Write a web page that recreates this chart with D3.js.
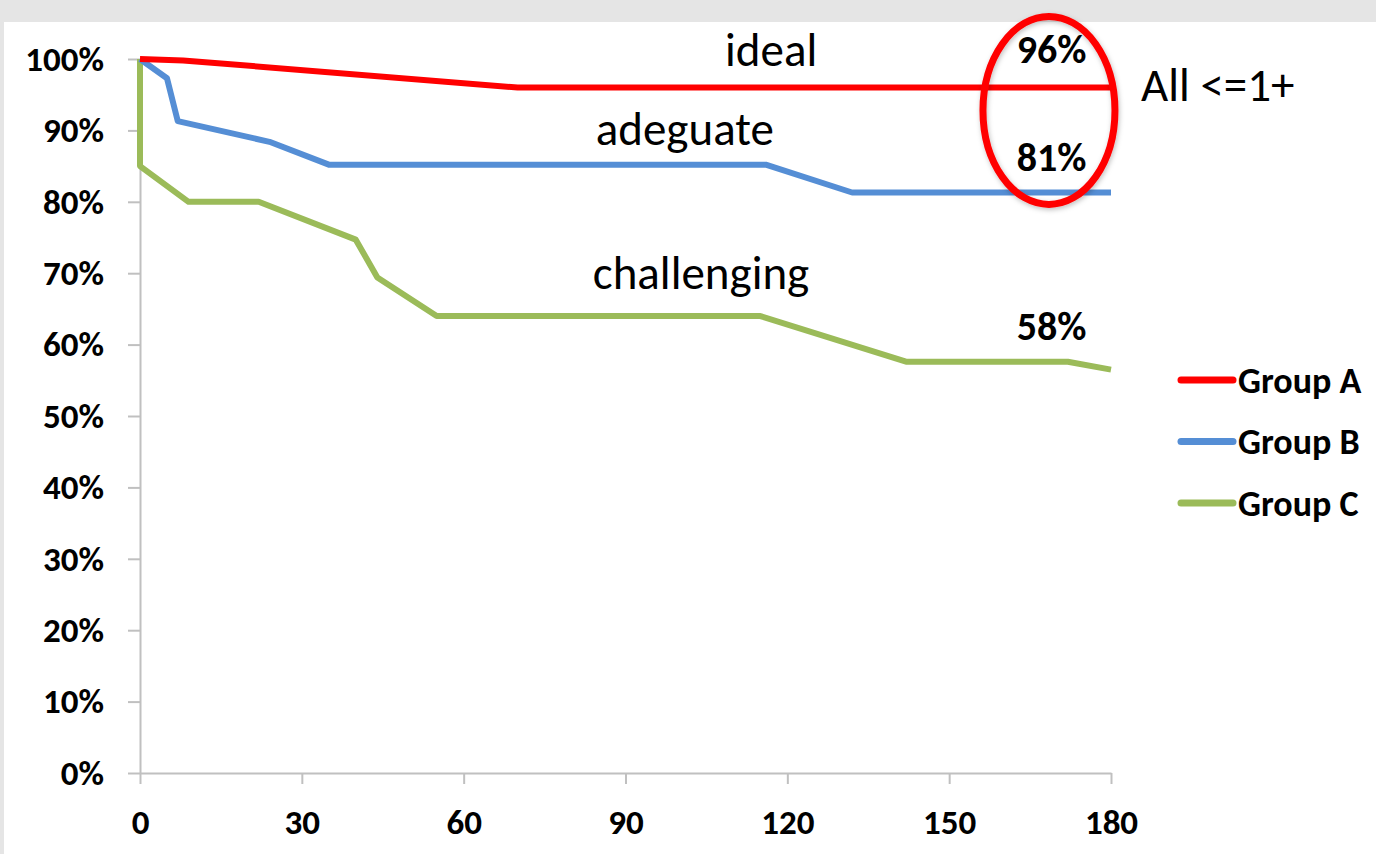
<!DOCTYPE html>
<html>
<head>
<meta charset="utf-8">
<script src="https://cdn.jsdelivr.net/npm/d3@7"></script>
<style>
  html, body { margin: 0; padding: 0; background: #e5e5e5; }
  svg { display: block; }
  .tick text { font-family: Carlito, Lato, "Open Sans", sans-serif; font-weight: 700; fill: #000; }
</style>
</head>
<body>
<svg id="chart" width="1376" height="854"></svg>
<script>
// Days after procedure and share of patients still at grade <= 1+
const groupADays = [0, 8, 70, 180];
const groupAValues = [100, 99.8, 96, 96];

const groupBDays = [0, 5, 7, 24, 35, 116, 132, 180];
const groupBValues = [100, 97.3, 91.3, 88.4, 85.2, 85.2, 81.3, 81.3];

const groupCDays = [0, 0, 9, 22, 40, 44, 55, 115, 142, 172, 180];
const groupCValues = [100, 85, 80, 80, 74.7, 69.4, 64, 64, 57.6, 57.6, 56.5];

const seriesNames = ["Group A", "Group B", "Group C"];
const seriesColors = ["#ff0000", "#558ed5", "#9bbb59"];
const seriesLabels = ["ideal", "adeguate", "challenging"];

const xTicks = [0, 30, 60, 90, 120, 150, 180];
const yTicks = [0, 10, 20, 30, 40, 50, 60, 70, 80, 90, 100];

const FONT = "Carlito, Lato, 'Open Sans', sans-serif";

const svg = d3.select("#chart");

// slide backdrop: grey strip on top/left, white panel
svg.append("rect").attr("x", 0).attr("y", 0).attr("width", 1376).attr("height", 854).attr("fill", "#e5e5e5");
svg.append("rect").attr("x", 4).attr("y", 22).attr("width", 1372).attr("height", 832).attr("fill", "#ffffff");

const defs = svg.append("defs");
const shadow = defs.append("filter").attr("id", "soft").attr("x", "-20%").attr("y", "-20%").attr("width", "140%").attr("height", "140%");
shadow.append("feDropShadow").attr("dx", 1).attr("dy", 2).attr("stdDeviation", 2.5).attr("flood-color", "#000").attr("flood-opacity", 0.25);

const x = d3.scaleLinear().domain([0, 180]).range([140, 1111]);
const y = d3.scaleLinear().domain([0, 100]).range([773, 59]);

// axes
const yAxis = d3.axisLeft(y).tickValues(yTicks).tickSize(12).tickSizeOuter(0).tickPadding(24)
  .tickFormat(d => d + "%");
const xAxis = d3.axisBottom(x).tickValues(xTicks).tickSize(11).tickSizeOuter(0).tickPadding(25)
  .tickFormat(d3.format("d"));

const gy = svg.append("g").attr("transform", `translate(${x(0)},0)`).call(yAxis);
const gx = svg.append("g").attr("transform", `translate(0,${y(0)})`).call(xAxis);
[gy, gx].forEach(g => {
  g.select(".domain").attr("stroke", "#c0c0c0").attr("stroke-width", 2);
  g.selectAll(".tick line").attr("stroke", "#c0c0c0").attr("stroke-width", 2);
  g.selectAll(".tick text").attr("font-size", 35).style("font-family", FONT);
});

// survival-style step lines
const series = [
  { days: groupADays, values: groupAValues },
  { days: groupBDays, values: groupBValues },
  { days: groupCDays, values: groupCValues }
];
const line = d3.line().x(d => x(d[0])).y(d => y(d[1]));

// draw C, B, A so red sits on top
[2, 1, 0].forEach(i => {
  const s = series[i];
  svg.append("path")
    .datum(d3.zip(s.days, s.values))
    .attr("fill", "none")
    .attr("stroke", seriesColors[i])
    .attr("stroke-width", 6)
    .attr("stroke-linejoin", "round")
    .attr("d", line);
});

// descriptive labels above each curve
const labelSpots = [[117, 96], [101, 85.2], [104, 64]];
const labelOffsets = [22, 20, 27];
seriesLabels.forEach((t, i) => {
  svg.append("text")
    .attr("x", x(labelSpots[i][0]))
    .attr("y", y(labelSpots[i][1]) - labelOffsets[i])
    .attr("text-anchor", "middle")
    .attr("font-family", FONT)
    .attr("font-size", 47)
    .attr("fill", "#000")
    .text(t);
});

// end-of-follow-up values
const fmt = v => Math.round(v) + "%";
const valueAt = (s, day) => {
  const pts = d3.zip(s.days, s.values).filter(p => p[0] <= day);
  return pts[pts.length - 1][1];
};
const valueOffsets = [25, 22, 21.5];
series.forEach((s, i) => {
  const v = valueAt(s, 172);
  svg.append("text")
    .attr("x", x(169))
    .attr("y", y(v) - valueOffsets[i])
    .attr("text-anchor", "middle")
    .attr("font-family", FONT)
    .attr("font-weight", 700)
    .attr("font-size", 40)
    .attr("fill", "#000")
    .text(fmt(v));
});

// highlight ring around the A and B endpoints
svg.append("ellipse")
  .attr("cx", x(168.5))
  .attr("cy", y(92.8))
  .attr("rx", 66)
  .attr("ry", 94)
  .attr("fill", "none")
  .attr("stroke", "#ff0000")
  .attr("stroke-width", 7)
  .attr("filter", "url(#soft)");

svg.append("text")
  .attr("x", 1141)
  .attr("y", 101)
  .attr("font-family", FONT)
  .attr("font-size", 47)
  .attr("fill", "#000")
  .text("All <=1+");

// legend
const legend = svg.append("g");
seriesNames.forEach((name, i) => {
  const ly = 380 + i * 61.5;
  legend.append("line")
    .attr("x1", 1181).attr("x2", 1233)
    .attr("y1", ly).attr("y2", ly)
    .attr("stroke", seriesColors[i])
    .attr("stroke-width", 7)
    .attr("stroke-linecap", "round");
  legend.append("text")
    .attr("x", 1238)
    .attr("y", ly)
    .attr("dy", "0.36em")
    .attr("font-family", FONT)
    .attr("font-weight", 700)
    .attr("font-size", 36)
    .attr("fill", "#000")
    .text(name);
});
</script>
</body>
</html>
